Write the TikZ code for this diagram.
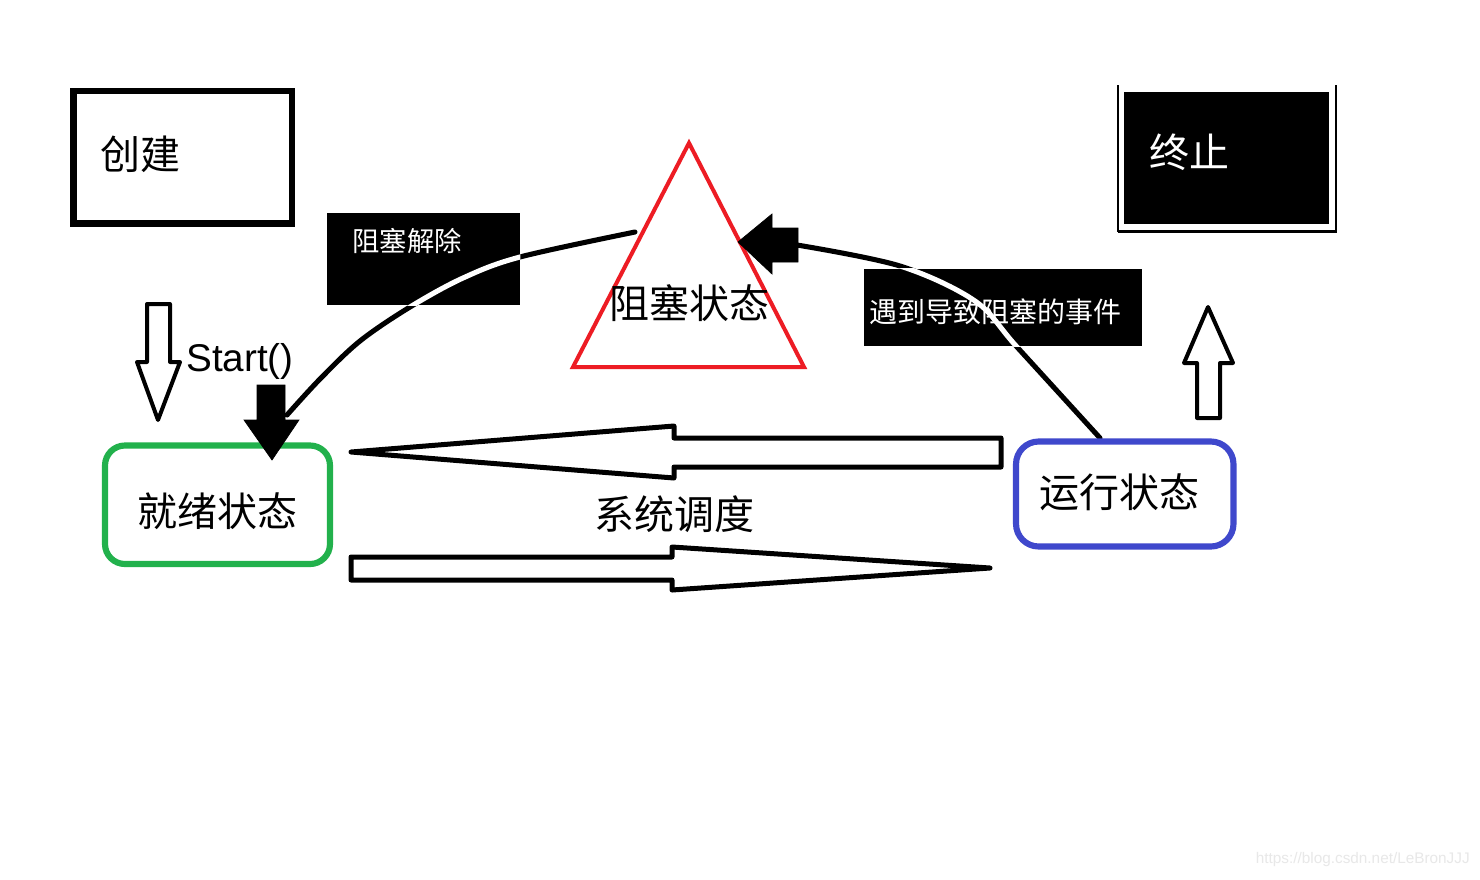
\documentclass[tikz,border=0pt]{standalone}
\usepackage{fontspec}
\setmainfont{Liberation Sans}
\newfontfamily\cjk{Noto Sans CJK SC}
\definecolor{pgreen}{RGB}{34,177,76}
\definecolor{pblue}{RGB}{63,72,204}
\definecolor{pred}{RGB}{237,28,36}
\begin{document}
\begin{tikzpicture}[x=0.75pt,y=-0.75pt,
  bigcjk/.style={font=\cjk\fontsize{30}{30}\selectfont, inner sep=0pt, text=black},
  smallcjk/.style={font=\cjk\fontsize{20.5}{21}\selectfont, inner sep=0pt, text=white},
  hollowarrow/.style={draw=black, fill=white, line width=3pt, line join=round},
  solidarrow/.style={fill=black, draw=black, line width=0.5pt},
  curveline/.style={draw=black, line width=3.8pt, line cap=round},
  whiteline/.style={draw=white, line width=3.8pt, line cap=round},
  blackbox/.style={fill=black, draw=none, inner sep=0pt},
  statebox/.style={draw, line width=4.6pt, rounded corners=15pt, fill=none, inner sep=0pt}]
\useasboundingbox (0,0) rectangle (1480,879);
\fill[white] (0,0) rectangle (1480,879);

% create box
\node[draw=black, line width=4.9pt, minimum width=163.9pt, minimum height=99.4pt, inner sep=0pt] (create) at (182.75,157.25) {};
\node[bigcjk] (createtxt) at (140,154) {创建};

% terminate box
\draw[line width=1.2pt] (1118,85) -- (1118,232);
\draw[line width=1.2pt] (1336,85) -- (1336,232);
\draw[line width=2pt] (1117.5,231.5) -- (1336.5,231.5);
\node[blackbox, minimum width=153.75pt, minimum height=99pt] (term) at (1226.5,158) {};
\node[bigcjk, text=white] (termtxt) at (1189,152) {终止};

% blocked triangle
\coordinate (tA) at (689,143);
\coordinate (tB) at (804,367);
\coordinate (tC) at (573,367);
\draw[pred, line width=3pt, line join=miter] (tA) -- (tB) -- (tC) -- cycle;
\node[bigcjk] (blocked) at (689,303) {阻塞状态};

% black label boxes
\node[blackbox, minimum width=144.75pt, minimum height=69pt] (unblockbox) at (423.5,259) {};
\node[blackbox, minimum width=208.5pt, minimum height=57.75pt] (eventbox) at (1003,307.5) {};

% curves
\coordinate (lstart) at (635,232);
\coordinate (lend) at (287,415);
\coordinate (rstart) at (797,245);
\coordinate (rend) at (1100,438);
\def\leftcurve{plot[smooth, tension=0.55] coordinates {(lstart) (520,257) (463,278) (410,307) (360,341) (320,379) (lend)}}
\def\rightcurve{plot[smooth, tension=0.55] coordinates {(rstart) (900,266) (975,301) (1017,347) (rend)}}
\draw[curveline] \leftcurve;
\draw[curveline] \rightcurve;
\begin{scope}
  \clip (unblockbox.south west) rectangle (unblockbox.north east);
  \draw[whiteline] \leftcurve;
\end{scope}
\begin{scope}
  \clip (eventbox.south west) rectangle (eventbox.north east);
  \draw[whiteline] \rightcurve;
\end{scope}
\node[smallcjk] (unblocktxt) at (407,241) {阻塞解除};
\node[smallcjk, font=\cjk\fontsize{21}{21}\selectfont] (eventtxt) at (995,312) {遇到导致阻塞的事件};

% solid arrow heads
\fill[solidarrow] (738,242) -- (772,214) -- (772,228) -- (798,228) -- (798,262) -- (772,262) -- (772,274) -- cycle;

% ready and running states
\node[statebox, draw=pgreen, minimum width=168.75pt, minimum height=88.9pt] (ready) at (217.5,504.75) {};
\node[bigcjk] (readytxt) at (217,511) {就绪状态};
\node[statebox, draw=pblue, minimum width=163.1pt, minimum height=78.75pt, rounded corners=17pt] (run) at (1124.75,494) {};
\node[bigcjk] (runtxt) at (1119,492) {运行状态};

\fill[solidarrow] (257,385) -- (285,385) -- (285,420) -- (299,420) -- (272,460) -- (244,420) -- (257,420) -- cycle;

% hollow arrows
\draw[hollowarrow] (147,304) -- (170,304) -- (170,362) -- (180,362) -- (158,420) -- (137,362) -- (147,362) -- cycle;
\node[font=\fontsize{29}{30}\selectfont, inner sep=0pt] (start) at (240,361) {Start()};
\draw[hollowarrow] (1208,307) -- (1233,363) -- (1220,363) -- (1220,418) -- (1197,418) -- (1197,363) -- (1184,363) -- cycle;

\draw[hollowarrow, line width=3.75pt] (351,452) -- (674,426) -- (674,438) -- (1001,438) -- (1001,467) -- (674,467) -- (674,478) -- cycle;
\draw[hollowarrow, line width=3.75pt] (351,557) -- (672,557) -- (672,547) -- (990,568) -- (672,590) -- (672,580) -- (351,580) -- cycle;
\node[bigcjk] (sched) at (674,514) {系统调度};

% watermark
\node[font=\fontsize{11.5}{12}\selectfont, text=black!9, inner sep=0pt, anchor=east] (wm) at (1470,860) {https://blog.csdn.net/LeBronJJJ};
\end{tikzpicture}
\end{document}
